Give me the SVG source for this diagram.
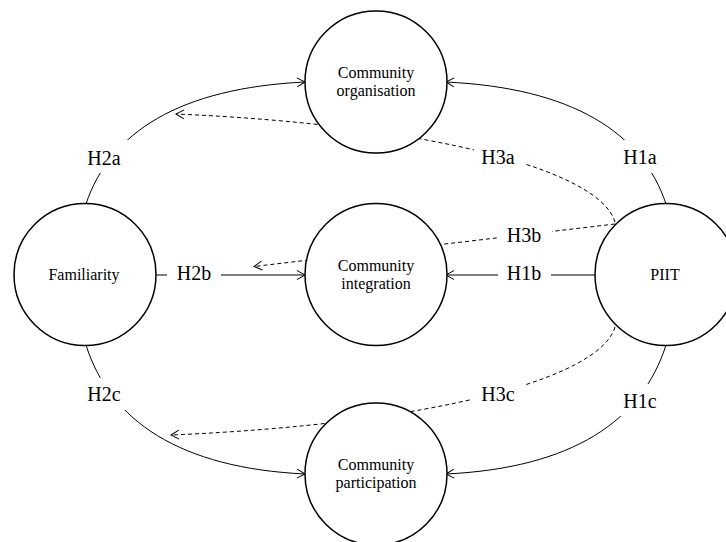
<svg xmlns="http://www.w3.org/2000/svg" width="726" height="542" viewBox="0 0 726 542">
<style>
.node circle{fill:#fff;stroke:#000;stroke-width:1.5}
.node text{font-family:"Liberation Serif","Times New Roman",serif;font-size:16px;fill:#000;text-anchor:middle}
.c{fill:none;stroke:#000;stroke-width:1}
.d{fill:none;stroke:#000;stroke-width:1;stroke-dasharray:4,3}
.lb{fill:#fff;stroke:none}
.lt{font-family:"Liberation Serif","Times New Roman",serif;font-size:20px;fill:#000;text-anchor:middle}
</style>
<defs>
<marker id="arr" markerUnits="userSpaceOnUse" markerWidth="12" markerHeight="12" refX="0" refY="0" orient="auto" overflow="visible">
<path d="M-8,-4.5 L0,0 L-8,4.5" fill="none" stroke="#000" stroke-width="1"/>
</marker>
</defs>
<rect width="726" height="542" fill="#fff"/>
<g id="connectors">
<path class="c" d="M86,204 C110,132 180,88 305,82" marker-end="url(#arr)"/>
<path class="c" d="M666,204 C642,132 572,88 446,82" marker-end="url(#arr)"/>
<path class="c" d="M156,275 L305,275" marker-end="url(#arr)"/>
<path class="c" d="M595,275 L446,275" marker-end="url(#arr)"/>
<path class="c" d="M86,345 C110,421 180,468 305,474" marker-end="url(#arr)"/>
<path class="c" d="M666,345 C642,421 572,468 446,474" marker-end="url(#arr)"/>
<path class="d" d="M615,222 C600,170 430,125 176,114" marker-end="url(#arr)"/>
<path class="d" d="M615,224 L254,266.5" marker-end="url(#arr)"/>
<path class="d" d="M615,327 C600,379 430,424 171,435" marker-end="url(#arr)"/>
<rect class="lb" x="81" y="140" width="48" height="33"/>
<text class="lt" x="104" y="165">H2a</text>
<rect class="lb" x="617" y="140" width="48" height="33"/>
<text class="lt" x="640" y="164">H1a</text>
<rect class="lb" x="474" y="145" width="50" height="27"/>
<text class="lt" x="498" y="164">H3a</text>
<rect class="lb" x="499" y="226" width="53" height="22"/>
<text class="lt" x="524" y="242">H3b</text>
<rect class="lb" x="167" y="262" width="54" height="24"/>
<text class="lt" x="194" y="280">H2b</text>
<rect class="lb" x="498" y="262" width="53" height="24"/>
<text class="lt" x="524" y="280">H1b</text>
<rect class="lb" x="80" y="378" width="49" height="32"/>
<text class="lt" x="104" y="401">H2c</text>
<rect class="lb" x="470" y="384" width="54" height="24"/>
<text class="lt" x="498" y="401">H3c</text>
<rect class="lb" x="616" y="384" width="48" height="32"/>
<text class="lt" x="640" y="408">H1c</text>
</g>
<g id="node-organisation" class="node">
<circle cx="376" cy="82" r="71"/>
<text x="376" y="78">Community</text>
<text x="376" y="96">organisation</text>
</g>
<g id="node-familiarity" class="node">
<circle cx="85" cy="274.5" r="71"/>
<text x="84" y="280">Familiarity</text>
</g>
<g id="node-integration" class="node">
<circle cx="376" cy="274.5" r="71"/>
<text x="376" y="270.5">Community</text>
<text x="376" y="288.5">integration</text>
</g>
<g id="node-piit" class="node">
<circle cx="666" cy="274.5" r="71"/>
<text x="665" y="280">PIIT</text>
</g>
<g id="node-participation" class="node">
<circle cx="376" cy="474" r="71"/>
<text x="376" y="470">Community</text>
<text x="376" y="488">participation</text>
</g>
</svg>
